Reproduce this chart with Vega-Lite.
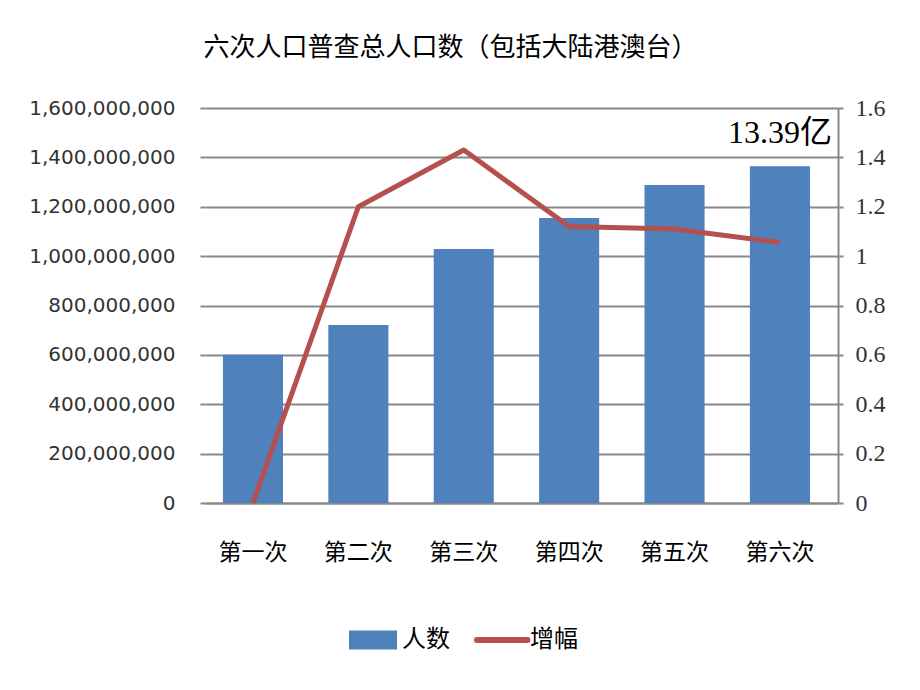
{
  "$schema": "https://vega.github.io/schema/vega-lite/v6.json",
  "width": 633,
  "height": 395,
  "autosize": {"type": "none"},
  "padding": {"left": 205, "top": 108, "right": 82, "bottom": 187},
  "background": "white",
  "config": {"view": {"stroke": null}},
  "title": {
    "text": "六次人口普查总人口数（包括大陆港澳台）",
    "font": "Noto Sans CJK SC",
    "fontSize": 26,
    "fontWeight": "normal",
    "color": "#000000",
    "anchor": "middle",
    "frame": "group",
    "dx": -71,
    "offset": 35
  },
  "data": {
    "values": [
      {"census": "第一次", "people": 601000000, "growth": 0},
      {"census": "第二次", "people": 721000000, "growth": 1.2},
      {"census": "第三次", "people": 1029000000, "growth": 1.43},
      {"census": "第四次", "people": 1154000000, "growth": 1.12},
      {"census": "第五次", "people": 1288000000, "growth": 1.11},
      {"census": "第六次", "people": 1364000000, "growth": 1.055}
    ]
  },
  "layer": [
    {
      "layer": [
        {
          "mark": {"type": "bar"},
          "encoding": {
            "x": {
              "field": "census",
              "type": "nominal",
              "sort": null,
              "scale": {
                "domain": ["第一次", "第二次", "第三次", "第四次", "第五次", "第六次"],
                "paddingInner": 0.43,
                "paddingOuter": 0.218,
                "align": 0.39
              },
              "axis": {
                "title": null,
                "labelAngle": 0,
                "labelFont": "Noto Sans CJK SC",
                "labelFontSize": 23,
                "labelColor": "#000000",
                "labelPadding": 38,
                "ticks": false,
                "domain": true,
                "domainColor": "#888888",
                "domainWidth": 2
              }
            },
            "y": {
              "field": "people",
              "type": "quantitative",
              "scale": {"domain": [0, 1600000000], "nice": false},
              "axis": {
                "title": null,
                "values": [0, 200000000, 400000000, 600000000, 800000000, 1000000000, 1200000000, 1400000000, 1600000000],
                "format": ",d",
                "labelFont": "DejaVu Sans",
                "labelFontSize": 20,
                "labelColor": "#333333",
                "labelPadding": 25,
                "grid": true,
                "gridColor": "#888888",
                "gridWidth": 2,
                "domain": false,
                "ticks": true,
                "tickSize": 5,
                "tickColor": "#888888",
                "tickWidth": 2
              }
            },
            "color": {
              "datum": "人数",
              "type": "nominal",
              "scale": {"domain": ["人数", "增幅"], "range": ["#4F81BD", "#B4504D"]},
              "legend": {
                "title": null,
                "orient": "none",
                "legendX": 156,
                "legendY": 520,
                "direction": "horizontal",
                "labelFont": "Noto Sans CJK SC",
                "labelFontSize": 24,
                "labelColor": "#000000",
                "symbolSize": 2304,
                "labelOffset": 17,
                "columnPadding": 15,
                "padding": 0,
                "encode": {
                  "symbols": {
                    "update": {
                      "shape": {"signal": "datum.value === '人数' ? 'M-1,-0.4H1V0.4H-1Z' : 'M-1,0H1.1'"},
                      "fill": {"signal": "datum.value === '人数' ? '#4F81BD' : 'transparent'"},
                      "stroke": {"signal": "datum.value === '人数' ? 'transparent' : '#B4504D'"},
                      "strokeWidth": {"signal": "datum.value === '人数' ? 0 : 6"},
                      "strokeCap": {"value": "round"},
                      "opacity": {"value": 1}
                    }
                  }
                }
              }
            }
          }
        },
        {
          "data": {"values": [{"census": "第六次", "note": "13.39亿"}]},
          "mark": {
            "type": "text",
            "font": "Liberation Serif, Noto Sans CJK SC",
            "fontSize": 32,
            "color": "#000000",
            "align": "center",
            "baseline": "middle"
          },
          "encoding": {
            "x": {"field": "census", "type": "nominal"},
            "y": {"datum": 1500000000, "type": "quantitative"},
            "text": {"field": "note"}
          }
        }
      ]
    },
    {
      "mark": {"type": "line", "strokeWidth": 5, "strokeJoin": "round"},
      "encoding": {
        "x": {"field": "census", "type": "nominal", "sort": null},
        "y": {
          "field": "growth",
          "type": "quantitative",
          "scale": {"domain": [0, 1.6], "nice": false},
          "axis": {
            "orient": "right",
            "title": null,
            "values": [0, 0.2, 0.4, 0.6, 0.8, 1, 1.2, 1.4, 1.6],
            "format": "~g",
            "labelFont": "Liberation Serif",
            "labelFontSize": 24,
            "labelColor": "#333333",
            "labelPadding": 12,
            "grid": false,
            "domain": true,
            "domainColor": "#888888",
            "domainWidth": 2,
            "ticks": true,
            "tickSize": 5,
            "tickColor": "#888888",
            "tickWidth": 2
          }
        },
        "color": {"datum": "增幅", "type": "nominal"}
      }
    }
  ],
  "resolve": {"scale": {"y": "independent"}}
}
